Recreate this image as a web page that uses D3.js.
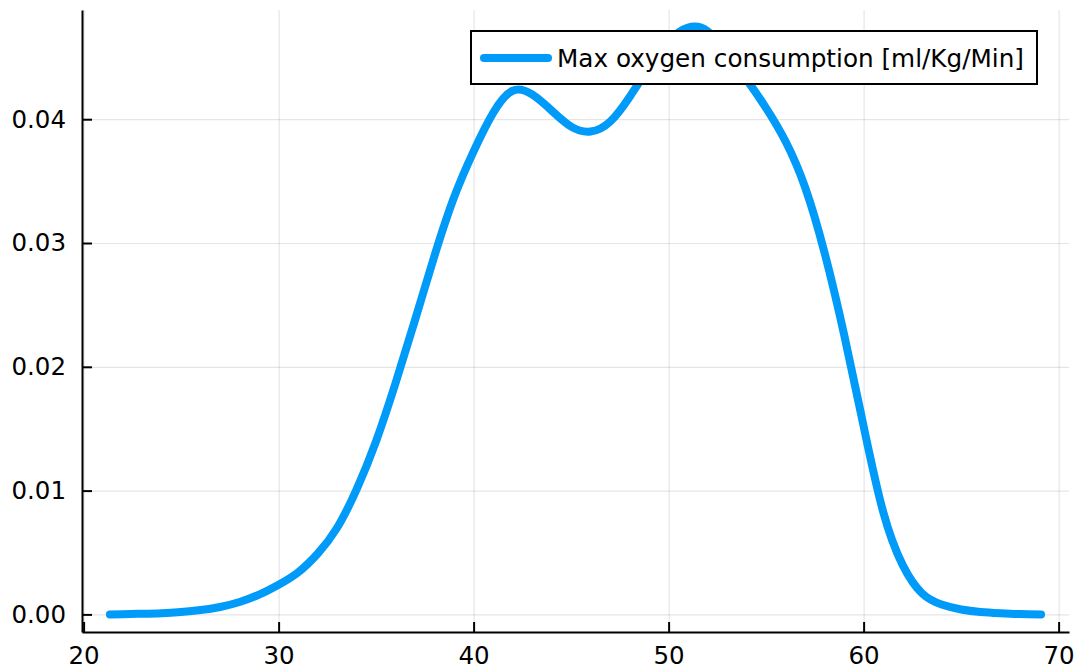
<!DOCTYPE html>
<html>
<head>
<meta charset="utf-8">
<script src="https://cdn.jsdelivr.net/npm/d3@7"></script>
<style>
  html, body { margin: 0; padding: 0; background: #fff; }
  svg { display: block; font-family: "DejaVu Sans", sans-serif; }
</style>
</head>
<body>
<div id="app"></div>
<script>
const seriesName = 'Max oxygen consumption [ml/Kg/Min]';

const xs = [21.35, 22, 23, 24, 25, 26, 27, 28, 29, 30, 31, 32, 33, 34, 35, 36, 37, 38, 39, 40,
  41, 42, 43, 44, 45, 46, 47, 48, 49, 50, 51, 52, 53, 54, 55, 56, 57, 58, 59, 60,
  61, 62, 63, 64, 65, 66, 67, 68, 69.1];

const ys = [0.0000, 0.00002, 0.00005, 0.0001, 0.0002, 0.00035, 0.0006, 0.001, 0.0016, 0.0024,
  0.0034, 0.0049, 0.0070, 0.0101, 0.0140, 0.0187, 0.0238, 0.0290, 0.0337, 0.0374,
  0.0405, 0.0423, 0.0420, 0.0407, 0.0394, 0.0390, 0.0398, 0.0418, 0.0442, 0.0463,
  0.0474, 0.0471, 0.0453, 0.0432, 0.0409, 0.0382, 0.0345, 0.0292, 0.0226, 0.0152,
  0.0083, 0.0040, 0.0017, 0.0008, 0.0004, 0.0002, 0.0001, 0.00003, 0.0];

const xTicks = [20, 30, 40, 50, 60, 70];
const yTicks = [0, 0.01, 0.02, 0.03, 0.04];

const dataset = xs.map((x, i) => [x, ys[i]]);

const w = 1082;
const h = 672;
const plotLeft = 82, plotRight = 1069, plotTop = 10, plotBottom = 632;

// julia-style 3% padding around the data
const xExt = d3.extent(xs);
const yExt = d3.extent(ys);
const xPad = (xExt[1] - xExt[0]) * 0.03;
const yPad = (yExt[1] - yExt[0]) * 0.03;

const xScale = d3.scaleLinear()
  .domain([xExt[0] - xPad, xExt[1] + xPad])
  .range([plotLeft, plotRight]);

const yScale = d3.scaleLinear()
  .domain([yExt[0] - yPad, yExt[1] + yPad])
  .range([plotBottom, plotTop]);

const svg = d3.select('#app')
  .append('svg')
  .attr('width', w)
  .attr('height', h)
  .style('background', '#fff');

// grid
svg.append('g')
  .attr('transform', 'translate(0,' + plotBottom + ')')
  .call(d3.axisBottom(xScale).tickValues(xTicks).tickSize(-(plotBottom - plotTop)).tickFormat(''))
  .call(g => g.select('.domain').remove())
  .selectAll('line')
  .attr('stroke', '#000')
  .attr('stroke-opacity', 0.1)
  .attr('stroke-width', 1.2);

svg.append('g')
  .attr('transform', 'translate(' + plotLeft + ',0)')
  .call(d3.axisLeft(yScale).tickValues(yTicks).tickSize(-(plotRight - plotLeft)).tickFormat(''))
  .call(g => g.select('.domain').remove())
  .selectAll('line')
  .attr('stroke', '#000')
  .attr('stroke-opacity', 0.1)
  .attr('stroke-width', 1.2);

// axes
const xAxis = d3.axisBottom(xScale)
  .tickValues(xTicks)
  .tickSizeInner(-10)
  .tickSizeOuter(0)
  .tickPadding(15)
  .tickFormat(d3.format('d'));

const yAxis = d3.axisLeft(yScale)
  .tickValues(yTicks)
  .tickSizeInner(-10)
  .tickSizeOuter(0)
  .tickPadding(16)
  .tickFormat(d3.format('.2f'));

svg.append('g')
  .attr('id', 'x-axis')
  .attr('transform', 'translate(0,' + plotBottom + ')')
  .call(xAxis);

svg.append('g')
  .attr('id', 'y-axis')
  .attr('transform', 'translate(' + plotLeft + ',0)')
  .call(yAxis);

svg.selectAll('#x-axis, #y-axis')
  .call(g => g.selectAll('.domain').attr('stroke', '#000').attr('stroke-width', 2))
  .call(g => g.selectAll('.tick line').attr('stroke', '#000').attr('stroke-width', 2))
  .call(g => g.selectAll('.tick text')
    .attr('fill', '#000')
    .style('font-family', '"DejaVu Sans", sans-serif')
    .style('font-size', '24.5px'));

// density curve
const line = d3.line()
  .x((d) => xScale(d[0]))
  .y((d) => yScale(d[1]))
  .curve(d3.curveNatural);

svg.append('path')
  .datum(dataset)
  .attr('d', line)
  .attr('fill', 'none')
  .attr('stroke', '#009af9')
  .attr('stroke-width', 8)
  .attr('stroke-linecap', 'round')
  .attr('stroke-linejoin', 'round');

// legend
const legend = svg.append('g').attr('transform', 'translate(471,31)');

legend.append('rect')
  .attr('width', 566)
  .attr('height', 53)
  .attr('fill', '#fff')
  .attr('stroke', '#000')
  .attr('stroke-width', 2);

legend.append('line')
  .attr('x1', 13)
  .attr('x2', 77)
  .attr('y1', 27)
  .attr('y2', 27)
  .attr('stroke', '#009af9')
  .attr('stroke-width', 8)
  .attr('stroke-linecap', 'round');

legend.append('text')
  .attr('x', 86)
  .attr('y', 35.5)
  .style('font-size', '24.7px')
  .attr('fill', '#000')
  .text(seriesName);
</script>
</body>
</html>
